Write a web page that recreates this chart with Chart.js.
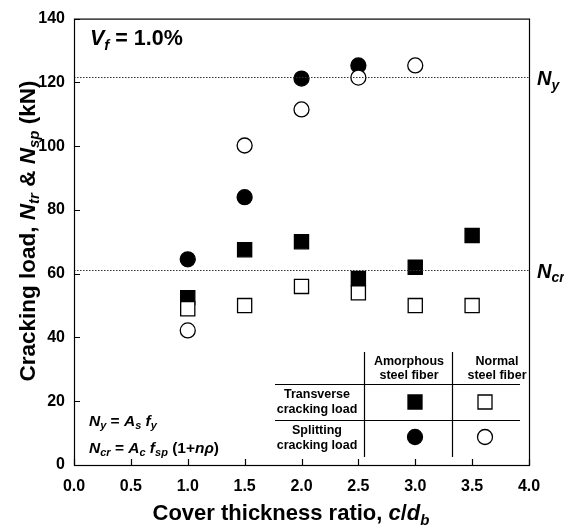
<!DOCTYPE html>
<html>
<head>
<meta charset="utf-8">
<script src="https://cdn.jsdelivr.net/npm/chart.js@4"></script>
<style>
  html, body { margin: 0; padding: 0; background: #fff; }
  #wrap { width: 564px; height: 527px; }
</style>
</head>
<body>
<div id="wrap"><canvas id="chart" width="564" height="527"></canvas></div>
<script>
// data
const coverRatio = [1.0, 1.5, 2.0, 2.5, 3.0, 3.5];
const transAmorphous = [52.5, 67.5, 70, 58.5, 62, 72];
const transNormal = [49, 50, 56, 54, 50, 50];
const splitAmorphous = [64.5, 84, 121.2, 125.3, null, null];
const splitNormal = [42.2, 100.2, 111.5, 121.5, 125.3, null];
const nYield = 121.6;   // N_y
const nCrack = 61.3;    // N_cr

const FONT = '"Liberation Sans", Arial, sans-serif';

function pts(ys) {
  const out = [];
  coverRatio.forEach((x, i) => { if (ys[i] !== null) out.push({ x: x, y: ys[i] }); });
  return out;
}

// draw text made of pieces: [text, italic, sub]
function richText(ctx, parts, x, y, size, align, subDrop) {
  const subSize = Math.round(size * 0.68);
  const drop = subDrop === undefined ? size * 0.22 : subDrop;
  const font = (it, sub) => 'bold ' + (it ? 'italic ' : '') + (sub ? subSize : size) + 'px ' + FONT;
  let w = 0;
  parts.forEach(p => { ctx.font = font(p[1], p[2]); w += ctx.measureText(p[0]).width; });
  let cx = x;
  if (align === 'center') cx = x - w / 2;
  ctx.textAlign = 'left';
  ctx.textBaseline = 'alphabetic';
  parts.forEach(p => {
    ctx.font = font(p[1], p[2]);
    ctx.fillText(p[0], cx, p[2] ? y + drop : y);
    cx += ctx.measureText(p[0]).width;
  });
}

function marker(ctx, style, filled, x, y) {
  ctx.save();
  ctx.lineWidth = 1.3;
  ctx.strokeStyle = '#000';
  ctx.fillStyle = filled ? '#000' : '#fff';
  ctx.beginPath();
  if (style === 'rect') ctx.rect(x - 7, y - 7, 14, 14);
  else ctx.arc(x, y, 7.5, 0, Math.PI * 2);
  ctx.fill();
  ctx.stroke();
  ctx.restore();
}

const decorations = {
  id: 'decorations',
  afterDatasetsDraw(chart) {
    const ctx = chart.ctx;
    const ys = chart.scales.y;
    const ca = chart.chartArea;
    ctx.save();
    // reference lines
    ctx.strokeStyle = '#333';
    ctx.lineWidth = 1.2;
    ctx.setLineDash([1.5, 1.5]);
    [nYield, nCrack].forEach(v => {
      const py = Math.round(ys.getPixelForValue(v)) + 0.5;
      ctx.beginPath();
      ctx.moveTo(ca.left, py);
      ctx.lineTo(ca.right, py);
      ctx.stroke();
    });
    ctx.setLineDash([]);
    ctx.restore();
  },
  afterDraw(chart) {
    const ctx = chart.ctx;
    const xs = chart.scales.x, ys = chart.scales.y;
    const ca = chart.chartArea;
    ctx.save();
    ctx.fillStyle = '#000';
    ctx.strokeStyle = '#000';
    ctx.lineWidth = 1.2;

    // frame
    ctx.strokeRect(ca.left + 0.5, ca.top + 0.5, ca.right - ca.left, ca.bottom - ca.top);

    // inward ticks
    ctx.beginPath();
    ys.ticks.forEach(t => {
      const py = Math.round(ys.getPixelForValue(t.value)) + 0.5;
      ctx.moveTo(ca.left, py); ctx.lineTo(ca.left + 6, py);
    });
    xs.ticks.forEach(t => {
      const px = Math.round(xs.getPixelForValue(t.value)) + 0.5;
      ctx.moveTo(px, ca.bottom); ctx.lineTo(px, ca.bottom - 6);
    });
    ctx.stroke();

    // axis titles
    richText(ctx, [['Cover thickness ratio, ', false, false], ['c', true, false], ['/', false, false], ['d', true, false], ['b', true, true]],
      291, 520, 22, 'center');
    ctx.save();
    ctx.translate(35, 231);
    ctx.rotate(-Math.PI / 2);
    richText(ctx, [['Cracking load, ', false, false], ['N', true, false], ['tr', true, true], [' & ', false, false],
      ['N', true, false], ['sp', true, true], [' (kN)', false, false]], 0, 0, 22.5, 'center', 3.5);
    ctx.restore();

    // in-plot texts
    richText(ctx, [['V', true, false], ['f', true, true], [' = 1.0%', false, false]], 90, 45, 21.5, 'left');
    richText(ctx, [['N', true, false], ['y', true, true], [' = ', false, false], ['A', true, false], ['s', true, true],
      [' ', false, false], ['f', true, false], ['y', true, true]], 89, 426, 15.5, 'left');
    richText(ctx, [['N', true, false], ['cr', true, true], [' = ', false, false], ['A', true, false], ['c', true, true],
      [' ', false, false], ['f', true, false], ['sp', true, true], [' (1+', false, false], ['n\u03C1', true, false], [')', false, false]],
      89, 453, 15.5, 'left');

    // right labels
    richText(ctx, [['N', true, false], ['y', true, true]], ca.right + 8, ys.getPixelForValue(nYield) + 8, 20, 'left');
    richText(ctx, [['N', true, false], ['cr', true, true]], ca.right + 8, ys.getPixelForValue(nCrack) + 8, 20, 'left');

    // legend table
    const c1 = 364.5, c2 = 452.5, rL = 275, rR = 520;
    const h1 = 384.5, h2 = 420.5, top = 352, bot = 457;
    ctx.beginPath();
    ctx.moveTo(rL, h1); ctx.lineTo(rR, h1);
    ctx.moveTo(rL, h2); ctx.lineTo(rR, h2);
    ctx.moveTo(c1, top); ctx.lineTo(c1, bot);
    ctx.moveTo(c2, top); ctx.lineTo(c2, bot);
    ctx.stroke();
    ctx.font = 'bold 12.5px ' + FONT;
    ctx.textAlign = 'center';
    ctx.textBaseline = 'middle';
    ctx.fillText('Amorphous', 409, 362);
    ctx.fillText('steel fiber', 409, 376);
    ctx.fillText('Normal', 497, 362);
    ctx.fillText('steel fiber', 497, 376);
    ctx.fillText('Transverse', 317, 395);
    ctx.fillText('cracking load', 317, 410);
    ctx.fillText('Splitting', 317, 431);
    ctx.fillText('cracking load', 317, 446);
    marker(ctx, 'rect', true, 415, 402);
    marker(ctx, 'rect', false, 485, 402);
    marker(ctx, 'circle', true, 415, 437);
    marker(ctx, 'circle', false, 485, 437);
    ctx.restore();
  }
};

function ds(label, data, style, filled, order) {
  return {
    label: label,
    data: pts(data),
    pointStyle: style,
    pointRadius: style === 'rect' ? 10 : 7.5,
    pointHoverRadius: style === 'rect' ? 10 : 7.5,
    pointBorderWidth: 1.3,
    borderColor: '#000',
    backgroundColor: filled ? '#000' : '#fff',
    showLine: false,
    order: order
  };
}

new Chart(document.getElementById('chart'), {
  type: 'scatter',
  data: {
    datasets: [
      ds('Transverse, amorphous', transAmorphous, 'rect', true, 3),
      ds('Transverse, normal', transNormal, 'rect', false, 2),
      ds('Splitting, amorphous', splitAmorphous, 'circle', true, 1),
      ds('Splitting, normal', splitNormal, 'circle', false, 0)
    ]
  },
  options: {
    responsive: false,
    animation: false,
    layout: { padding: { top: 15, right: 35, left: 0, bottom: 0 } },
    plugins: { legend: { display: false }, tooltip: { enabled: false } },
    scales: {
      x: {
        type: 'linear', min: 0, max: 4,
        grid: { display: false, drawTicks: false },
        border: { display: false },
        afterFit: s => { s.height = 62; },
        ticks: {
          stepSize: 0.5, padding: 12, color: '#000',
          font: { family: FONT, size: 16, weight: 'bold' },
          callback: v => v.toFixed(1)
        }
      },
      y: {
        min: 0, max: 140,
        grid: { display: false, drawTicks: false },
        border: { display: false },
        afterFit: s => { s.width = 74; },
        ticks: {
          stepSize: 20, padding: 9, color: '#000',
          font: { family: FONT, size: 16, weight: 'bold' }
        }
      }
    }
  },
  plugins: [decorations]
});
</script>
</body>
</html>
